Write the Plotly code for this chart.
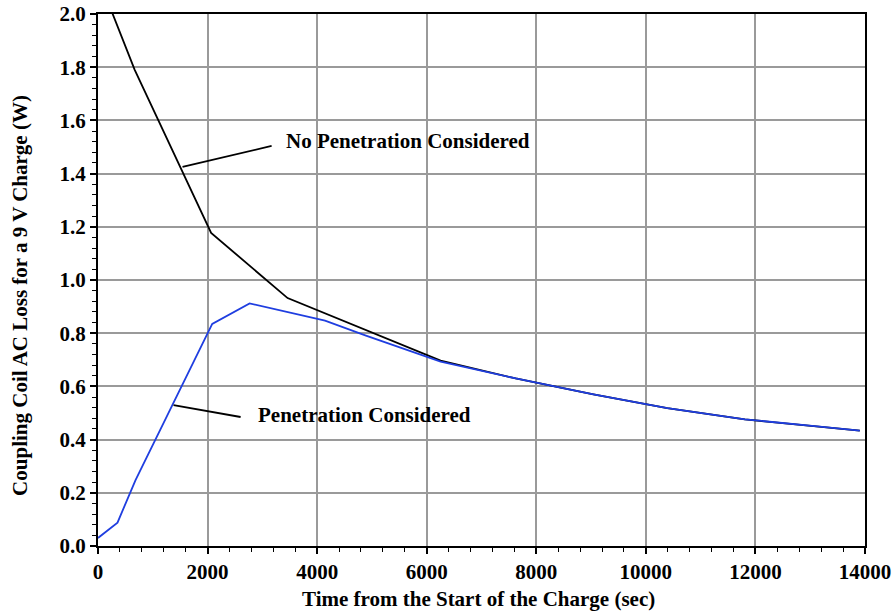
import plotly.graph_objects as go

# Penetration considered (blue)
t_pen = [0, 356, 685, 2085, 2767, 4144, 4891, 6254, 7624, 9043, 10391, 11808, 13172, 13905]
p_pen = [0.03, 0.088, 0.248, 0.835, 0.912, 0.847, 0.791, 0.693, 0.630, 0.570, 0.518, 0.476, 0.449, 0.434]

# No penetration considered (black)
t_nopen = [0, 670, 2065, 3461, 6254, 7624, 9043, 10391, 11808, 13172, 13905]
p_nopen = [2.14, 1.79, 1.177, 0.932, 0.697, 0.630, 0.570, 0.518, 0.476, 0.449, 0.434]

x_ticks = [0, 2000, 4000, 6000, 8000, 10000, 12000, 14000]
y_ticks = [0.0, 0.2, 0.4, 0.6, 0.8, 1.0, 1.2, 1.4, 1.6, 1.8, 2.0]

FONT = "Liberation Serif"
FS = 21

fig = go.Figure()
fig.add_trace(go.Scatter(x=t_nopen, y=p_nopen, mode="lines",
                         line=dict(color="black", width=1.8), showlegend=False))
fig.add_trace(go.Scatter(x=t_pen, y=p_pen, mode="lines",
                         line=dict(color="#1f3ee0", width=1.8), showlegend=False))

# leader lines
fig.add_shape(type="line", x0=1543, y0=1.425, x1=3169, y1=1.504,
              line=dict(color="black", width=1.8))
fig.add_shape(type="line", x0=1379, y0=0.530, x1=2603, y1=0.485,
              line=dict(color="black", width=1.8))

fig.add_annotation(x=3397, y=1.523, text="<b>No Penetration Considered</b>",
                   showarrow=False, xanchor="left", yanchor="middle",
                   font=dict(family=FONT, size=FS, color="black"))
fig.add_annotation(x=2877, y=0.4925, text="<b>Penetration Considered</b>",
                   showarrow=False, xanchor="left", yanchor="middle",
                   font=dict(family=FONT, size=FS, color="black"))

# axis titles
fig.add_annotation(xref="paper", yref="paper", x=0.4955, y=-0.1005,
                   text="<b>Time from the Start of the Charge (sec)</b>",
                   showarrow=False, xanchor="center", yanchor="middle",
                   font=dict(family=FONT, size=FS, color="black"))
fig.add_annotation(xref="paper", yref="paper", x=-0.1017, y=0.472,
                   text="<b>Coupling Coil AC Loss for a 9 V Charge (W)</b>",
                   textangle=-90, showarrow=False, xanchor="center", yanchor="middle",
                   font=dict(family=FONT, size=FS, color="black"))

fig.update_layout(
    width=893, height=613,
    margin=dict(l=98, r=28, t=14, b=67, autoexpand=False),
    paper_bgcolor="white", plot_bgcolor="white",
    font=dict(family=FONT, size=FS, color="black"),
)
fig.update_xaxes(
    range=[0, 14000], tickvals=x_ticks, ticktext=[f"<b>{v}</b>" for v in x_ticks],
    showgrid=True, gridcolor="#9a9a9a", gridwidth=1.5,
    showline=True, linecolor="black", linewidth=2, mirror=True,
    ticks="outside", ticklen=6, tickwidth=1.5, tickcolor="black",
    minor=dict(dtick=400, ticks="outside", ticklen=4, tickwidth=1.2, tickcolor="black", showgrid=False),
    tickfont=dict(family=FONT, size=FS), zeroline=False, automargin=False,
)
fig.update_yaxes(
    range=[0, 2.0], tickvals=y_ticks, ticktext=[f"<b>{v:.1f}</b>" for v in y_ticks],
    showgrid=True, gridcolor="#9a9a9a", gridwidth=1.5,
    showline=True, linecolor="black", linewidth=2, mirror=True,
    ticks="outside", ticklen=6, tickwidth=1.5, tickcolor="black",
    minor=dict(dtick=0.04, ticks="outside", ticklen=4, tickwidth=1.2, tickcolor="black", showgrid=False),
    tickfont=dict(family=FONT, size=FS), zeroline=False, automargin=False,
)

fig.write_html("out.html", config={"displayModeBar": False},
               post_script="document.body.style.margin='0';")
